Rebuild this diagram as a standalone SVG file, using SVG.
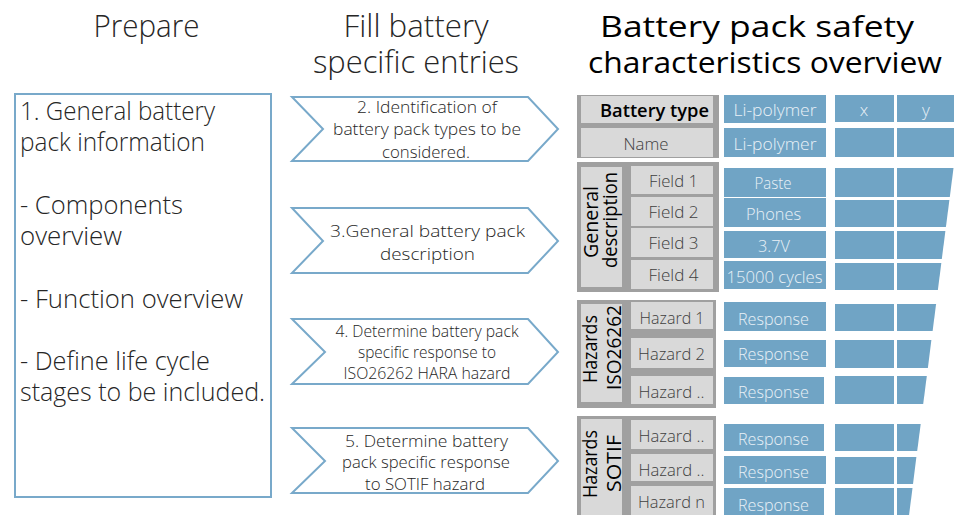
<svg xmlns="http://www.w3.org/2000/svg" width="955" height="515" viewBox="0 0 955 515">
  <style>
    text { font-family: "Segoe UI", "Open Sans", "Noto Sans", sans-serif; }
    .light { font-weight: 300; fill: #262626; }
    .semi { font-weight: 600; fill: #000000; }
    .plain { font-weight: 400; fill: #000000; }
    .title { font-size: 31px; }
    .step { font-size: 17px; text-anchor: middle; }
    .outline { fill: #ffffff; stroke: #78a9ca; stroke-width: 2; }
    .frame { fill: #a0a0a0; }
    .cell { fill: #d9d9d9; }
    .key { font-size: 17px; font-weight: 300; fill: #404040; text-anchor: middle; }
    .val { fill: #70a4c5; }
    .valtxt { font-size: 17px; font-weight: 300; fill: #e9f1f7; text-anchor: middle; }
    .vlabel { font-size: 19.5px; text-anchor: middle; }
  </style>

  <!-- column headings -->
  <g id="headings">
    <text class="light title" x="146.5" y="37" text-anchor="middle" textLength="106" lengthAdjust="spacingAndGlyphs">Prepare</text>
    <text class="light title" x="416" y="37" text-anchor="middle" textLength="145" lengthAdjust="spacingAndGlyphs">Fill battery</text>
    <text class="light title" x="416" y="73" text-anchor="middle" textLength="206" lengthAdjust="spacingAndGlyphs">specific entries</text>
    <text class="plain" x="757" y="37" font-size="30" text-anchor="middle" textLength="314" lengthAdjust="spacingAndGlyphs">Battery pack safety</text>
    <text class="plain" x="765" y="73" font-size="30" text-anchor="middle" textLength="354" lengthAdjust="spacingAndGlyphs">characteristics overview</text>
  </g>

  <!-- step 1: preparation box -->
  <g id="prepare-box">
    <rect class="outline" x="15" y="94" width="256" height="403"/>
    <g class="light" font-size="25">
      <text x="20" y="120" textLength="195" lengthAdjust="spacingAndGlyphs">1. General battery</text>
      <text x="20" y="151" textLength="185" lengthAdjust="spacingAndGlyphs">pack information</text>
      <text x="20" y="214" textLength="163" lengthAdjust="spacingAndGlyphs">- Components</text>
      <text x="20" y="245" textLength="102" lengthAdjust="spacingAndGlyphs">overview</text>
      <text x="20" y="308" textLength="223" lengthAdjust="spacingAndGlyphs">- Function overview</text>
      <text x="20" y="370" textLength="190" lengthAdjust="spacingAndGlyphs">- Define life cycle</text>
      <text x="20" y="401" textLength="245" lengthAdjust="spacingAndGlyphs">stages to be included.</text>
    </g>
  </g>

  <!-- steps 2-5: chevrons -->
  <g id="step-2">
    <polygon class="outline" points="292,97 528,97 558,129 528,161 292,161 323,129"/>
    <text class="light step" x="427" y="113" textLength="140" lengthAdjust="spacingAndGlyphs">2. Identification of</text>
    <text class="light step" x="427" y="135" textLength="188" lengthAdjust="spacingAndGlyphs">battery pack types to be</text>
    <text class="light step" x="426" y="158" textLength="88" lengthAdjust="spacingAndGlyphs">considered.</text>
  </g>
  <g id="step-3">
    <polygon class="outline" points="292,208 528,208 558,241 528,273 292,273 323,241"/>
    <text class="light step" x="427.5" y="237" font-size="19.5" textLength="195" lengthAdjust="spacingAndGlyphs">3.General battery pack</text>
    <text class="light step" x="427.5" y="260" font-size="19.5" textLength="95" lengthAdjust="spacingAndGlyphs">description</text>
  </g>
  <g id="step-4">
    <polygon class="outline" points="292,319 528,319 558,352 528,384 292,384 325,352"/>
    <text class="light step" x="427" y="337" textLength="183" lengthAdjust="spacingAndGlyphs">4. Determine battery pack</text>
    <text class="light step" x="427" y="358" textLength="138" lengthAdjust="spacingAndGlyphs">specific response to</text>
    <text class="light step" x="427" y="379" textLength="167" lengthAdjust="spacingAndGlyphs">ISO26262 HARA hazard</text>
  </g>
  <g id="step-5">
    <polygon class="outline" points="292,428 528,428 558,461 528,493 292,493 325,461"/>
    <text class="light step" x="426.5" y="447" textLength="163" lengthAdjust="spacingAndGlyphs">5. Determine battery</text>
    <text class="light step" x="426" y="468" textLength="168" lengthAdjust="spacingAndGlyphs">pack specific response</text>
    <text class="light step" x="425" y="490" textLength="120" lengthAdjust="spacingAndGlyphs">to SOTIF hazard</text>
  </g>

  <!-- overview table: battery identity -->
  <g id="identity-block">
    <rect class="frame" x="577" y="95" width="142" height="63"/>
    <rect class="cell" x="581" y="96" width="132" height="27"/>
    <rect class="cell" x="581" y="128" width="132" height="29"/>
    <text class="semi" x="709" y="117" font-size="17.5" text-anchor="end" textLength="109" lengthAdjust="spacingAndGlyphs">Battery type</text>
    <text class="key" x="646" y="150" textLength="45" lengthAdjust="spacingAndGlyphs">Name</text>
  </g>

  <!-- overview table: general description -->
  <g id="general-block">
    <rect class="frame" x="577" y="162" width="142" height="130"/>
    <rect class="cell" x="581" y="167" width="41" height="120"/>
    <rect class="cell" x="631" y="166" width="82" height="28"/>
    <rect class="cell" x="631" y="197" width="82" height="29"/>
    <rect class="cell" x="631" y="228" width="82" height="29"/>
    <rect class="cell" x="631" y="260" width="82" height="29"/>
    <text class="plain vlabel" transform="translate(598,222) rotate(-90)" textLength="72" lengthAdjust="spacingAndGlyphs">General</text>
    <text class="plain vlabel" transform="translate(617,220) rotate(-90)" textLength="96" lengthAdjust="spacingAndGlyphs">description</text>
    <text class="key" x="673.5" y="187" textLength="49" lengthAdjust="spacingAndGlyphs">Field 1</text>
    <text class="key" x="673.5" y="218" textLength="50" lengthAdjust="spacingAndGlyphs">Field 2</text>
    <text class="key" x="673.5" y="249" textLength="50" lengthAdjust="spacingAndGlyphs">Field 3</text>
    <text class="key" x="673.5" y="281" textLength="50" lengthAdjust="spacingAndGlyphs">Field 4</text>
  </g>

  <!-- overview table: ISO 26262 hazards -->
  <g id="iso-block">
    <rect class="frame" x="577" y="300" width="139" height="108"/>
    <rect class="cell" x="581" y="304" width="41" height="98"/>
    <rect class="cell" x="631" y="302" width="82" height="27"/>
    <rect class="cell" x="631" y="338" width="82" height="30"/>
    <rect class="cell" x="631" y="376" width="82" height="28"/>
    <text class="plain vlabel" transform="translate(597,349) rotate(-90)" textLength="68" lengthAdjust="spacingAndGlyphs">Hazards</text>
    <text class="plain vlabel" transform="translate(620.5,347.5) rotate(-90)" textLength="85" lengthAdjust="spacingAndGlyphs">ISO26262</text>
    <text class="key" x="672" y="324" textLength="65" lengthAdjust="spacingAndGlyphs">Hazard 1</text>
    <text class="key" x="671.5" y="360" textLength="67" lengthAdjust="spacingAndGlyphs">Hazard 2</text>
    <text class="key" x="671.5" y="398" textLength="66" lengthAdjust="spacingAndGlyphs">Hazard ..</text>
  </g>

  <!-- overview table: SOTIF hazards -->
  <g id="sotif-block">
    <rect class="frame" x="577" y="416" width="139" height="101"/>
    <rect class="cell" x="581" y="419" width="41" height="98"/>
    <rect class="cell" x="631" y="420" width="82" height="29"/>
    <rect class="cell" x="631" y="454" width="82" height="27"/>
    <rect class="cell" x="631" y="486" width="82" height="31"/>
    <text class="plain vlabel" transform="translate(597,464) rotate(-90)" textLength="68" lengthAdjust="spacingAndGlyphs">Hazards</text>
    <text class="plain vlabel" transform="translate(620.5,463.5) rotate(-90)" textLength="57" lengthAdjust="spacingAndGlyphs">SOTIF</text>
    <text class="key" x="671.5" y="442" textLength="66" lengthAdjust="spacingAndGlyphs">Hazard ..</text>
    <text class="key" x="671.5" y="476" textLength="66" lengthAdjust="spacingAndGlyphs">Hazard ..</text>
    <text class="key" x="671.5" y="508" textLength="67" lengthAdjust="spacingAndGlyphs">Hazard n</text>
  </g>

  <!-- value column: entries for the first battery -->
  <g id="values-main">
    <rect class="val" x="724" y="95" width="102" height="28"/>
    <rect class="val" x="724" y="128" width="102" height="29"/>
    <rect class="val" x="724" y="168" width="102" height="29"/>
    <rect class="val" x="724" y="198" width="102" height="29"/>
    <rect class="val" x="724" y="231" width="102" height="27"/>
    <rect class="val" x="724" y="261" width="102" height="28"/>
    <rect class="val" x="724" y="302" width="102" height="29"/>
    <rect class="val" x="724" y="340" width="102" height="27"/>
    <rect class="val" x="724" y="377" width="100" height="27"/>
    <rect class="val" x="724" y="424" width="100" height="27"/>
    <rect class="val" x="724" y="456" width="102" height="28"/>
    <rect class="val" x="724" y="488" width="100" height="29"/>
    <text class="valtxt" x="775" y="116" textLength="83" lengthAdjust="spacingAndGlyphs">Li-polymer</text>
    <text class="valtxt" x="775" y="150" textLength="83" lengthAdjust="spacingAndGlyphs">Li-polymer</text>
    <text class="valtxt" x="773" y="189" textLength="37" lengthAdjust="spacingAndGlyphs">Paste</text>
    <text class="valtxt" x="773.5" y="220" textLength="55" lengthAdjust="spacingAndGlyphs">Phones</text>
    <text class="valtxt" x="774" y="252" textLength="32" lengthAdjust="spacingAndGlyphs">3.7V</text>
    <text class="valtxt" x="774.5" y="283" textLength="96" lengthAdjust="spacingAndGlyphs">15000 cycles</text>
    <text class="valtxt" x="773.5" y="325" textLength="71" lengthAdjust="spacingAndGlyphs">Response</text>
    <text class="valtxt" x="773.5" y="360" textLength="71" lengthAdjust="spacingAndGlyphs">Response</text>
    <text class="valtxt" x="773.5" y="398" textLength="71" lengthAdjust="spacingAndGlyphs">Response</text>
    <text class="valtxt" x="773.5" y="445" textLength="71" lengthAdjust="spacingAndGlyphs">Response</text>
    <text class="valtxt" x="773.5" y="478" textLength="71" lengthAdjust="spacingAndGlyphs">Response</text>
    <text class="valtxt" x="773.5" y="511" textLength="71" lengthAdjust="spacingAndGlyphs">Response</text>
  </g>

  <!-- value column x -->
  <g id="values-x">
    <rect class="val" x="835" y="95" width="59" height="27"/>
    <rect class="val" x="835" y="128" width="59" height="29"/>
    <rect class="val" x="835" y="168" width="59" height="29"/>
    <rect class="val" x="835" y="200" width="59" height="27"/>
    <rect class="val" x="835" y="231" width="59" height="28"/>
    <rect class="val" x="835" y="263" width="59" height="27"/>
    <rect class="val" x="835" y="304" width="59" height="27"/>
    <rect class="val" x="835" y="340" width="59" height="28"/>
    <rect class="val" x="835" y="376" width="59" height="28"/>
    <rect class="val" x="835" y="424" width="59" height="27"/>
    <rect class="val" x="835" y="457" width="59" height="27"/>
    <rect class="val" x="835" y="488" width="59" height="29"/>
    <text class="valtxt" x="864" y="116">x</text>
  </g>

  <!-- value column y (right edge runs off at a slant) -->
  <g id="values-y">
    <rect class="val" x="897" y="95" width="57" height="27"/>
    <rect class="val" x="897" y="128" width="57" height="29"/>
    <polygon class="val" points="897,168 953.5,168 949.8,197 897,197"/>
    <polygon class="val" points="897,200 949.4,200 945.9,227 897,227"/>
    <polygon class="val" points="897,231 945.4,231 941.8,259 897,259"/>
    <polygon class="val" points="897,263 941.3,263 937.9,290 897,290"/>
    <polygon class="val" points="897,304 936.1,304 932.6,331 897,331"/>
    <polygon class="val" points="897,340 931.4,340 927.9,368 897,368"/>
    <polygon class="val" points="897,376 926.8,376 923.2,404 897,404"/>
    <polygon class="val" points="897,424 920.7,424 917.2,451 897,451"/>
    <polygon class="val" points="897,457 916.4,457 913.0,484 897,484"/>
    <polygon class="val" points="897,488 912.5,488 908.8,517 897,517"/>
    <text class="valtxt" x="926" y="116">y</text>
  </g>
</svg>
